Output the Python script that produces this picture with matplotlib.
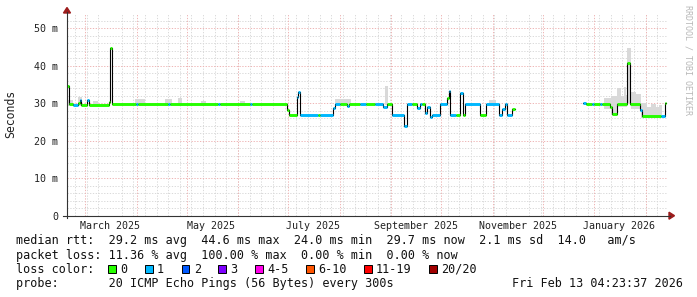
import matplotlib
matplotlib.use("Agg")
import matplotlib.pyplot as plt
import matplotlib.dates as mdates
from matplotlib.patches import Rectangle, Polygon
from matplotlib.lines import Line2D
import numpy as np
import pandas as pd

# median rtt as steps: start of each step, value in ms, loss colour index
seg_start = [
    "2025-02-18 05:00", "2025-02-19 10:00", "2025-02-21 19:00", "2025-02-24 19:00",
    "2025-02-26 00:00", "2025-02-26 14:00", "2025-03-02 05:00", "2025-03-03 10:00",
    "2025-03-15 10:00", "2025-03-16 00:00", "2025-03-17 05:00", "2025-03-31 14:00",
    "2025-04-01 22:00", "2025-04-19 22:00", "2025-04-21 02:00", "2025-05-19 22:00",
    "2025-05-21 02:00", "2025-06-08 05:00", "2025-06-09 10:00", "2025-06-30 10:00",
    "2025-07-01 14:00", "2025-07-06 10:00", "2025-07-07 07:00", "2025-07-08 12:00",
    "2025-07-19 00:00", "2025-07-20 05:00", "2025-07-28 00:00", "2025-07-29 05:00",
    "2025-08-01 05:00", "2025-08-05 12:00", "2025-08-06 17:00", "2025-08-13 07:00",
    "2025-08-16 22:00", "2025-08-22 07:00", "2025-08-27 02:00", "2025-08-29 12:00",
    "2025-09-01 12:00", "2025-09-08 17:00", "2025-09-10 12:00", "2025-09-13 12:00",
    "2025-09-16 12:00", "2025-09-18 07:00", "2025-09-19 12:00", "2025-09-21 07:00",
    "2025-09-22 12:00", "2025-09-24 07:00", "2025-09-25 12:00", "2025-09-30 07:00",
    "2025-10-04 12:00", "2025-10-05 12:00", "2025-10-06 10:00", "2025-10-10 00:00",
    "2025-10-12 10:00", "2025-10-14 05:00", "2025-10-15 10:00", "2025-10-24 10:00",
    "2025-10-28 00:00", "2025-11-04 19:00", "2025-11-06 14:00", "2025-11-08 10:00",
    "2025-11-09 14:00", "2025-11-12 14:00", "2025-11-14 10:00",
    "2025-12-25 07:00", "2025-12-27 02:00", "2025-12-30 17:00", "2025-12-31 22:00",
    "2026-01-04 12:00", "2026-01-05 17:00", "2026-01-10 12:00", "2026-01-11 17:00",
    "2026-01-14 17:00", "2026-01-21 00:00", "2026-01-22 19:00", "2026-01-28 12:00",
    "2026-01-29 17:00", "2026-02-10 05:00", "2026-02-12 14:00",
]
seg_median = [
    34.7, 29.7, 29.5, 30.0, 30.8, 29.6, 30.8, 29.6,
    30.3, 44.6, 29.7, 29.7, 29.7, 29.7, 29.7, 29.7,
    29.7, 29.7, 29.7, 28.2, 26.9, 31.7, 33.0, 26.9,
    26.9, 26.9, 28.6, 29.9, 29.9, 29.2, 29.9, 29.9,
    29.9, 29.9, 29.0, 29.9, 26.9, 24.0, 29.9, 29.9,
    28.8, 29.9, 29.9, 27.3, 28.9, 26.4, 26.9, 29.9,
    31.3, 33.2, 26.9, 26.9, 32.6, 26.9, 29.9, 26.9,
    29.8, 26.9, 28.4, 29.8, 26.9, 28.4, np.nan,
    30.0, 29.9, 29.9, 29.9, 29.9, 29.9, 29.0, 27.0,
    29.8, 40.6, 29.8, 28.3, 26.7, 26.7, 30.0,
]
seg_loss = [
    0, 0, 1, 0, 1, 0, 1, 0,
    0, 0, 0, 1, 0, 1, 0, 1,
    0, 1, 0, 0, 0, 1, 1, 1,
    0, 1, 1, 1, 0, 1, 0, 1,
    0, 1, 1, 0, 1, 1, 1, 0,
    1, 1, 0, 1, 1, 1, 1, 1,
    0, 1, 1, 0, 1, 0, 1, 0,
    1, 1, 1, 1, 1, 0, 0,
    1, 0, 1, 0, 1, 0, 0, 0,
    0, 0, 0, 1, 0, 1, 0,
]
data_end = "2026-02-13 04:23"

# smoke (ping spread) blocks
smoke_start = [
    "2025-02-19", "2025-02-25", "2025-03-06", "2025-03-31", "2025-04-18",
    "2025-04-26", "2025-05-10", "2025-06-02", "2025-07-29", "2025-08-28",
    "2025-10-30", "2026-01-07", "2026-01-11", "2026-01-15", "2026-01-17",
    "2026-01-19", "2026-01-20", "2026-01-21", "2026-01-23", "2026-01-26",
    "2026-01-29", "2026-02-02", "2026-02-04", "2026-02-07", "2026-02-09",
]
smoke_end = [
    "2025-02-22", "2025-02-27", "2025-03-09", "2025-04-06", "2025-04-22",
    "2025-04-28", "2025-05-13", "2025-06-05", "2025-08-08", "2025-08-30",
    "2025-11-03", "2026-01-11", "2026-01-15", "2026-01-17", "2026-01-19",
    "2026-01-20", "2026-01-21", "2026-01-23", "2026-01-26", "2026-01-29",
    "2026-02-02", "2026-02-04", "2026-02-07", "2026-02-09", "2026-02-11",
]
smoke_low = [
    29.3, 29.3, 29.3, 29.3, 29.3, 29.3, 29.3, 29.3, 29.5, 29.5,
    29.5, 28.5, 27.0, 29.0, 29.0, 29.0, 29.0, 30.0, 28.5, 28.5,
    26.0, 26.0, 26.0, 26.0, 26.0,
]
smoke_high = [
    30.8, 31.7, 30.5, 31.0, 31.0, 31.4, 30.6, 30.6, 31.2, 34.5,
    30.8, 31.4, 31.8, 34.0, 32.0, 34.4, 32.2, 44.6, 33.0, 32.4,
    30.1, 29.1, 29.8, 29.1, 29.6,
]

loss_colors = ["#26ff00", "#00b8ff", "#0059ff", "#7e00ff",
               "#ff00ea", "#ff5500", "#ff0000", "#a10000"]
loss_labels = ["0", "1", "2", "3", "4-5", "6-10", "11-19", "20/20"]

y_ticks = [0, 10, 20, 30, 40, 50]
y_tick_labels = ["0", "10 m", "20 m", "30 m", "40 m", "50 m"]
month_label_dates = ["2025-03-16", "2025-05-16", "2025-07-16",
                     "2025-09-16", "2025-11-16", "2026-01-16"]
month_labels = ["March 2025", "May 2025", "July 2025",
                "September 2025", "November 2025", "January 2026"]

legend_lines = [
    "median rtt:  29.2 ms avg  44.6 ms max  24.0 ms min  29.7 ms now  2.1 ms sd  14.0   am/s",
    "packet loss: 11.36 % avg  100.00 % max  0.00 % min  0.00 % now",
    "loss color:",
    "probe:       20 ICMP Echo Pings (56 Bytes) every 300s",
]
timestamp = "Fri Feb 13 04:23:37 2026"

W, H = 697, 297
MONO = "DejaVu Sans Mono"
plt.rcParams["font.family"] = MONO


def px(x, y):
    # pixel (from top left) -> figure coords
    return (x / W, 1 - y / H)


def to_num(lst):
    return mdates.date2num(pd.to_datetime(lst).to_pydatetime())


fig = plt.figure(figsize=(W / 100, H / 100), dpi=100)
fig.patch.set_facecolor("white")
left, top, right, bottom = 67, 13.2, 668, 215.7
ax = fig.add_axes([left / W, 1 - bottom / H, (right - left) / W, (bottom - top) / H])

x0 = mdates.date2num(pd.Timestamp("2025-02-18 04:20").to_pydatetime())
x1 = mdates.date2num(pd.Timestamp("2026-02-14 08:40").to_pydatetime())
ax.set_xlim(x0, x1)
ax.set_ylim(0, 54)
ax.set_axisbelow(True)

# grid
minor_col = "#d9d9d9"
major_col = "#eeb4b4"
dots = (0, (1.3, 1.6))
ax.set_yticks(y_ticks)
ax.set_yticklabels(y_tick_labels)
ax.set_yticks(np.arange(0, 54, 2), minor=True)
ax.xaxis.set_minor_locator(mdates.WeekdayLocator(byweekday=mdates.SU))
ax.set_xticks(to_num(month_label_dates))
ax.set_xticklabels(month_labels)
ax.grid(which="minor", color=minor_col, ls=dots, lw=0.7)
ax.grid(which="major", axis="y", color=major_col, ls=dots, lw=0.7)
for m in mdates.MonthLocator().tick_values(mdates.num2date(x0), mdates.num2date(x1)):
    if x0 < m < x1:
        ax.axvline(m, color=major_col, ls=dots, lw=0.7, zorder=0.6)

ax.tick_params(which="both", length=0)
ax.tick_params(axis="y", pad=6.5, labelsize=7.2, labelcolor="#222222")
ax.tick_params(axis="x", pad=3.5, labelsize=7.2, labelcolor="#222222")
for s in ax.spines.values():
    s.set_visible(False)

# smoke
s0 = to_num(smoke_start)
s1 = to_num(smoke_end)
lo = np.array(smoke_low)
hi = np.array(smoke_high)
ax.bar(s0, hi - lo, width=s1 - s0, bottom=lo, align="edge",
       color="#d9d9d9", lw=0, zorder=1)

# median line: black steps + loss coloured segments
t = to_num(seg_start + [data_end])
med = np.array(seg_median, dtype=float)
ax.step(t, np.append(med, med[-1]), where="post", color="black", lw=0.8, zorder=2)
for i in range(len(med)):
    if np.isnan(med[i]):
        continue
    ax.hlines(med[i], t[i], t[i + 1], colors=loss_colors[seg_loss[i]],
              lw=2.1, zorder=3, capstyle="butt")

# axis lines and arrows
axis_col = "#333333"
arrow_col = "#9c1c1c"
fig.add_artist(Line2D(*zip(px(left, 218), px(left, 12)), color=axis_col, lw=0.8))
fig.add_artist(Line2D(*zip(px(63, bottom), px(670, bottom)), color=axis_col, lw=0.8))
fig.add_artist(Polygon([px(left - 3.5, 13), px(left + 3.5, 13), px(left, 7.5)],
                       closed=True, color=arrow_col, transform=fig.transFigure))
fig.add_artist(Polygon([px(669, bottom - 3.5), px(669, bottom + 3.5), px(674.5, bottom)],
                       closed=True, color=arrow_col, transform=fig.transFigure))

# titles / side texts
fig.text(*px(10.3, 114), "Seconds", rotation=90, ha="center", va="center",
         fontsize=8.3, color="#222222")
fig.text(*px(688, 5), "RRDTOOL / TOBI OETIKER", rotation=270, ha="center",
         va="top", fontsize=6, color="#b8b8b8")

# legend rows
baselines = [244.3, 258.5, 272.7, 286.8]
for line, yb in zip(legend_lines, baselines):
    fig.text(*px(16, yb), line, ha="left", va="baseline", fontsize=8.5, color="#111111")
fig.text(*px(512, baselines[3]), timestamp, ha="left", va="baseline",
         fontsize=8.5, color="#111111")

# loss colour boxes
char_w = 7.11
xb = 108.3
for col, lab in zip(loss_colors, loss_labels):
    fig.add_artist(Rectangle(px(xb, baselines[2]), 7.5 / W, 7.5 / H,
                             facecolor=col, edgecolor="black", lw=0.7,
                             transform=fig.transFigure))
    fig.text(*px(xb + 12, baselines[2]), lab, ha="left", va="baseline",
             fontsize=8.5, color="#111111")
    xb += 29.6 + char_w * len(lab)

fig.savefig("out.png", dpi=100)
